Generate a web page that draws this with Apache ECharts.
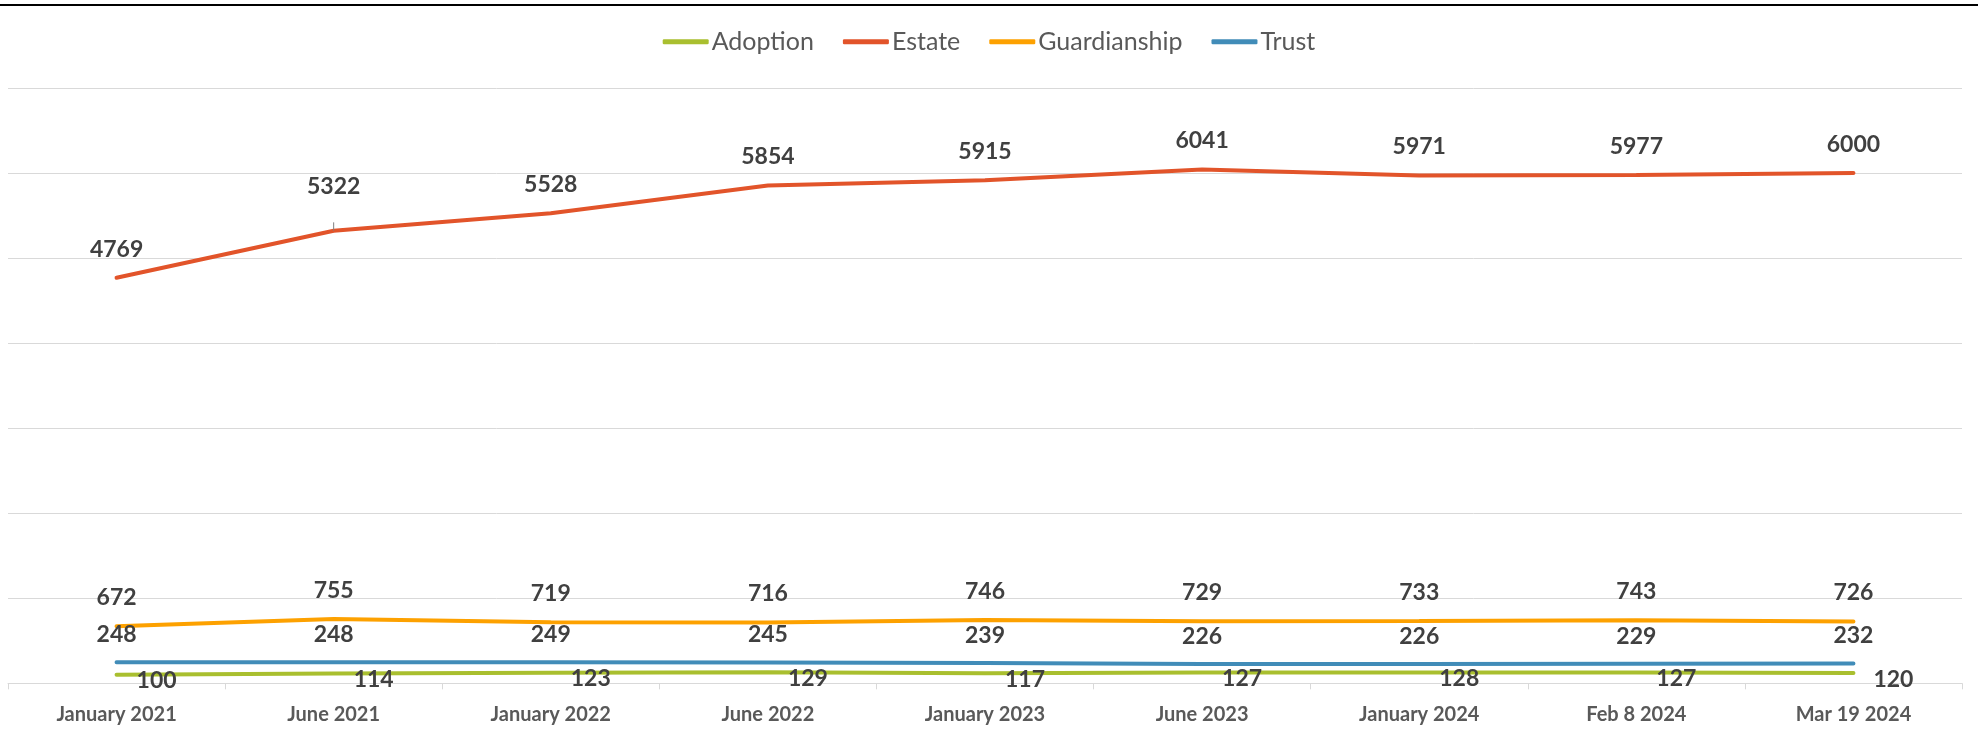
<!doctype html>
<html>
<head>
    <title>Case counts</title>
    <script src="https://cdn.jsdelivr.net/npm/echarts@6/dist/echarts.min.js"></script>
</head>
<style>
    html, body { margin: 0; padding: 0; background: #fff; }
    #chart { width: 1978px; height: 730px; }
</style>
<body>
<div id="chart"></div>
<script>
  var categories = ['January 2021', 'June 2021', 'January 2022', 'June 2022', 'January 2023',
    'June 2023', 'January 2024', 'Feb 8 2024', 'Mar 19 2024'];
  var adoption = [100, 114, 123, 129, 117, 127, 128, 127, 120];
  var estate = [4769, 5322, 5528, 5854, 5915, 6041, 5971, 5977, 6000];
  var guardianship = [672, 755, 719, 716, 746, 729, 733, 743, 726];
  var trust = [248, 248, 249, 245, 239, 226, 226, 229, 232];

  var myChart = echarts.init(document.getElementById('chart'));

  var labelFont = {
    show: true,
    color: '#404040',
    fontFamily: 'Lato',
    fontWeight: 'bold',
    fontSize: 23
  };

  function lineSeries(name, data, color, label) {
    return {
      name: name,
      type: 'line',
      data: data,
      symbol: 'circle',
      symbolSize: 0,
      showSymbol: true,
      lineStyle: { width: 4, color: color, cap: 'round' },
      itemStyle: { color: color },
      label: Object.assign({}, labelFont, label),
      emphasis: { disabled: true }
    };
  }

  // the second estate label sits higher, with a small leader line
  var estateData = estate.map(function (v, i) {
    if (i === 1) {
      return { value: v, label: { distance: 26 }, labelLine: { show: true, lineStyle: { color: '#7f7f7f', width: 1 } } };
    }
    return v;
  });

  var option = {
    animation: false,
    backgroundColor: '#fff',
    graphic: [{
      type: 'line',
      shape: { x1: 0, y1: 5, x2: 1978, y2: 5 },
      style: { stroke: '#000', lineWidth: 2 }
    }],
    legend: {
      top: 18,
      left: 'center',
      itemWidth: 46,
      itemHeight: 5,
      itemGap: 29,
      icon: 'roundRect',
      textStyle: { color: '#595959', fontFamily: 'Lato', fontSize: 25, padding: [0, 0, 0, -2] },
      data: ['Adoption', 'Estate', 'Guardianship', 'Trust']
    },
    grid: { left: 8, right: 16, top: 88, bottom: 42, containLabel: false },
    xAxis: {
      type: 'category',
      data: categories,
      boundaryGap: true,
      axisLine: { lineStyle: { color: '#d9d9d9', width: 1 } },
      axisTick: { show: true, length: 6, lineStyle: { color: '#d9d9d9' } },
      axisLabel: { color: '#595959', fontFamily: 'Lato', fontWeight: 'bold', fontSize: 20, margin: 16 }
    },
    yAxis: {
      type: 'value',
      min: 0,
      max: 7000,
      interval: 1000,
      axisLabel: { show: false },
      axisLine: { show: false },
      axisTick: { show: false },
      splitLine: { lineStyle: { color: '#d9d9d9', width: 1 } }
    },
    series: [
      lineSeries('Adoption', adoption, '#a9bf2f', { position: 'right', distance: 20, offset: [0, 6] }),
      lineSeries('Estate', estateData, '#e2542a', { position: 'top', distance: 11 }),
      lineSeries('Guardianship', guardianship, '#fda100', { position: 'top', distance: 11 }),
      lineSeries('Trust', trust, '#418cb8', { position: 'top', distance: 10 })
    ]
  };

  myChart.setOption(option);
</script>
</body>
</html>
